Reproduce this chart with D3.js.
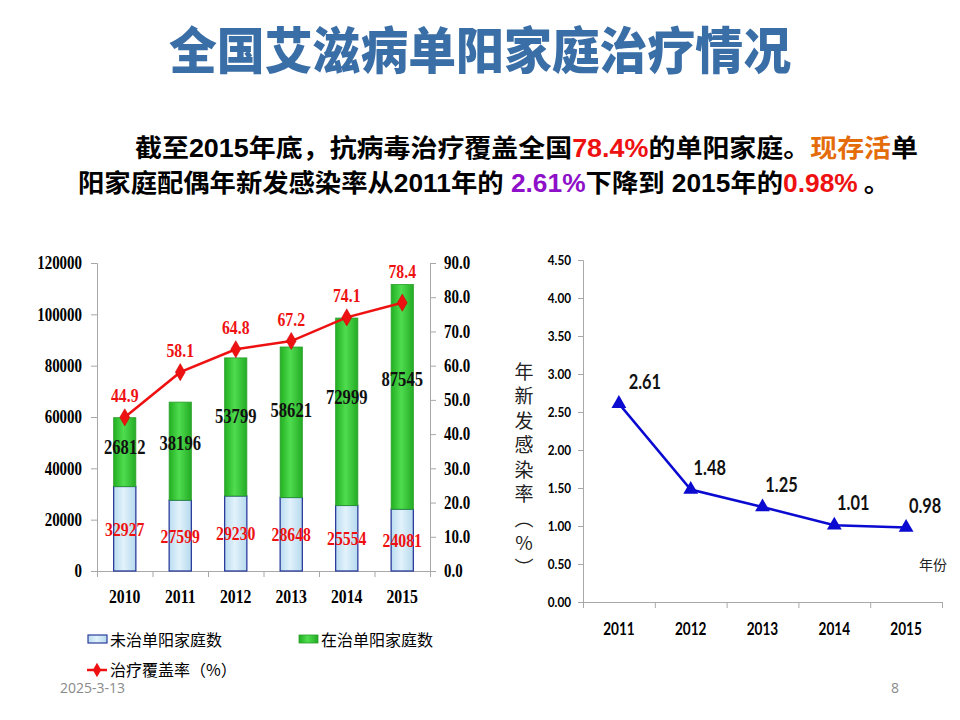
<!DOCTYPE html>
<html><head><meta charset="utf-8">
<script src="https://cdn.jsdelivr.net/npm/d3@7/dist/d3.min.js"></script>
<style>
html,body{margin:0;padding:0;background:#fff;}
svg{display:block;}
</style></head>
<body>
<svg id="c" width="960" height="720"></svg>
<script>
// ---------- data ----------
const years = ["2010","2011","2012","2013","2014","2015"];
const untreated = [32927,27599,29230,28648,25554,24081];
const treated = [26812,38196,53799,58621,72999,87545];
const coverage = [44.9,58.1,64.8,67.2,74.1,78.4];
const leftTicks = [0,20000,40000,60000,80000,100000,120000];
const rightTicks = [0,10,20,30,40,50,60,70,80,90];

const rateYears = ["2011","2012","2013","2014","2015"];
const rates = [2.61,1.48,1.25,1.01,0.98];
const rateTicks = [0,0.5,1,1.5,2,2.5,3,3.5,4,4.5];

const titleText = "全国艾滋病单阳家庭治疗情况";
const legendLabels = ["未治单阳家庭数","在治单阳家庭数","治疗覆盖率（%）"];

const svg = d3.select("#c");
const defs = svg.append("defs");

// horizontal squish helper (reference text is narrow)
function squish(sel,k){
  sel.each(function(){
    const t = d3.select(this);
    const x = +(t.attr("x")||0);
    t.attr("x", x/k).attr("transform", `scale(${k},1)`);
  });
}

// gradients
const gG = defs.append("linearGradient").attr("id","gGreen").attr("x1","0").attr("x2","1");
gG.append("stop").attr("offset","0").attr("stop-color","#22b022");
gG.append("stop").attr("offset","0.45").attr("stop-color","#4fdc4f");
gG.append("stop").attr("offset","1").attr("stop-color","#24ac24");
const gB = defs.append("linearGradient").attr("id","gBlue").attr("x1","0").attr("x2","1");
gB.append("stop").attr("offset","0").attr("stop-color","#b9dcf0");
gB.append("stop").attr("offset","0.45").attr("stop-color","#e2f2fb");
gB.append("stop").attr("offset","1").attr("stop-color","#b5d9ee");
const sh = defs.append("filter").attr("id","shadow").attr("x","-5%").attr("y","-50%").attr("width","110%").attr("height","300%");
sh.append("feDropShadow").attr("dx","1").attr("dy","2").attr("stdDeviation","1.2").attr("flood-color","#000").attr("flood-opacity","0.35");

// ---------- title ----------
svg.append("text").attr("x",480).attr("y",69).attr("text-anchor","middle")
  .attr("font-family","'Noto Sans CJK SC'").attr("font-weight",900).attr("font-size",50)
  .attr("fill","#3a6ea6").attr("textLength",622).attr("lengthAdjust","spacingAndGlyphs")
  .text(titleText);
svg.append("line").attr("x1",24).attr("x2",948).attr("y1",97).attr("y2",97)
  .attr("stroke","#c00000").attr("stroke-width",4).attr("filter","url(#shadow)");

// ---------- body text ----------
const cjk = "'Noto Sans CJK SC'", num = "'Liberation Sans', Arial";
function para(x,y,len,parts){
  const t = svg.append("text").attr("x",x).attr("y",y).attr("font-size",25).attr("font-weight",700)
    .attr("textLength",len).attr("lengthAdjust","spacingAndGlyphs");
  parts.forEach(p=>{
    t.append("tspan").attr("fill",p[1]||"#000").attr("font-family",p[2]?num:cjk).text(p[0]);
  });
}
para(135,157,783,[["截至"],["2015","#000",1],["年底，抗病毒治疗覆盖全国"],["78.4%","#ee1111",1],["的单阳家庭。"],["现存活","#e46c0a"],["单"]]);
para(78,192,812,[["阳家庭配偶年新发感染率从"],["2011","#000",1],["年的"],[" 2.61%","#8e10c8",1],["下降到"],[" 2015","#000",1],["年的"],["0.98%","#ee1111",1],[" 。"]]);

// ---------- left chart ----------
const serif = "'Liberation Serif', 'Times New Roman', serif";
const KL = 0.83;
const xL = d3.scaleBand().domain(years).range([97,430]).paddingInner(0.6).paddingOuter(0.3);
const yL = d3.scaleLinear().domain([0,120000]).range([571,263]);
const yR = d3.scaleLinear().domain([0,90]).range([571,263]);
const xLb = d3.scaleLinear().domain([0,years.length]).range([97,430]);

const axL = svg.append("g").attr("transform","translate(97,0)")
  .call(d3.axisLeft(yL).tickValues(leftTicks).tickSize(6).tickPadding(9).tickFormat(d3.format("d")));
const axR = svg.append("g").attr("transform","translate(430,0)")
  .call(d3.axisRight(yR).tickValues(rightTicks).tickSize(6).tickPadding(8).tickFormat(d3.format(".1f")));
const axB = svg.append("g").attr("transform","translate(0,571)")
  .call(d3.axisBottom(xLb).tickValues(d3.range(years.length+1)).tickSize(6).tickFormat(""));
[axL,axR,axB].forEach(a=>{
  a.selectAll("path,line").attr("stroke","#a8a8a8").attr("stroke-width",1);
  a.selectAll("text").attr("font-family",serif).attr("font-weight",700).attr("font-size",18).attr("fill","#000");
  squish(a.selectAll("text"),KL);
});
axB.select("path").attr("d","M97,0.5H430");

// x labels
squish(svg.append("g").selectAll("text").data(years).join("text")
  .attr("x",d=>xL(d)+xL.bandwidth()/2).attr("y",603).attr("text-anchor","middle")
  .attr("font-family",serif).attr("font-weight",700).attr("font-size",19).text(d=>d),KL);

// bars
const bars = svg.append("g");
bars.selectAll("rect.b").data(years).join("rect").attr("class","b")
  .attr("x",d=>xL(d)).attr("width",xL.bandwidth())
  .attr("y",(d,i)=>yL(untreated[i])).attr("height",(d,i)=>yL(0)-yL(untreated[i]))
  .attr("fill","url(#gBlue)").attr("stroke","#2b3c9c").attr("stroke-width",1.3);
bars.selectAll("rect.g").data(years).join("rect").attr("class","g")
  .attr("x",d=>xL(d)).attr("width",xL.bandwidth())
  .attr("y",(d,i)=>yL(untreated[i]+treated[i])).attr("height",(d,i)=>yL(untreated[i])-yL(untreated[i]+treated[i]))
  .attr("fill","url(#gGreen)").attr("stroke","#2a9e2a").attr("stroke-width",0.8);

// bar labels
squish(bars.selectAll("text.bl").data(years).join("text").attr("class","bl")
  .attr("x",d=>xL(d)+xL.bandwidth()/2).attr("y",(d,i)=>yL(untreated[i]/2)+7)
  .attr("text-anchor","middle").attr("font-family",serif).attr("font-weight",700).attr("font-size",19)
  .attr("fill","#ee1111").text((d,i)=>untreated[i]),KL);
squish(bars.selectAll("text.gl").data(years).join("text").attr("class","gl")
  .attr("x",d=>xL(d)+xL.bandwidth()/2).attr("y",(d,i)=>yL(untreated[i]+treated[i]*0.58)+7)
  .attr("text-anchor","middle").attr("font-family",serif).attr("font-weight",700).attr("font-size",20)
  .attr("fill","#111").text((d,i)=>treated[i]),KL);

// coverage line
const cx = d=>xL(d)+xL.bandwidth()/2;
svg.append("path").datum(years)
  .attr("d",d3.line().x(cx).y((d,i)=>yR(coverage[i])))
  .attr("fill","none").attr("stroke","#ee1111").attr("stroke-width",2.5);
svg.append("g").selectAll("path").data(years).join("path")
  .attr("d",d3.symbol(d3.symbolDiamond,85))
  .attr("transform",(d,i)=>`translate(${cx(d)},${yR(coverage[i])})`)
  .attr("fill","#ee1111").attr("stroke","#cc0000").attr("stroke-width",0.5);
squish(svg.append("g").selectAll("text").data(years).join("text")
  .attr("x",cx).attr("y",(d,i)=>Math.min(yR(coverage[i])-22, yL(untreated[i]+treated[i])-13)+7)
  .attr("text-anchor","middle").attr("font-family",serif).attr("font-weight",700).attr("font-size",19)
  .attr("fill","#ee1111").text((d,i)=>d3.format(".1f")(coverage[i])),KL);

// legend
const lg = svg.append("g").attr("font-family",cjk).attr("font-size",16).attr("fill","#000");
lg.append("rect").attr("x",88).attr("y",635).attr("width",19).attr("height",8)
  .attr("fill","url(#gBlue)").attr("stroke","#2b3c9c").attr("stroke-width",1.2);
lg.append("text").attr("x",110).attr("y",646).text(legendLabels[0]);
lg.append("rect").attr("x",299).attr("y",635).attr("width",19).attr("height",8)
  .attr("fill","url(#gGreen)").attr("stroke","#2a9e2a").attr("stroke-width",0.8);
lg.append("text").attr("x",321).attr("y",646).text(legendLabels[1]);
lg.append("line").attr("x1",87).attr("x2",107).attr("y1",670).attr("y2",670).attr("stroke","#ee1111").attr("stroke-width",2.5);
lg.append("path").attr("d",d3.symbol(d3.symbolDiamond,60)).attr("transform","translate(97,670)").attr("fill","#ee1111");
lg.append("text").attr("x",110).attr("y",676).text(legendLabels[2]);

// ---------- right chart ----------
const sans = "Lato, 'Open Sans', sans-serif";
const KR = 0.84;
const xR2 = d3.scaleBand().domain(rateYears).range([583,942]);
const yR2 = d3.scaleLinear().domain([0,4.5]).range([602,260]);
const xR2b = d3.scaleLinear().domain([0,rateYears.length]).range([583,942]);
const ay = svg.append("g").attr("transform","translate(583,0)")
  .call(d3.axisLeft(yR2).tickValues(rateTicks).tickSize(5).tickPadding(7).tickFormat(d3.format(".2f")));
const ax = svg.append("g").attr("transform","translate(0,602)")
  .call(d3.axisBottom(xR2b).tickValues(d3.range(rateYears.length+1)).tickSize(6).tickFormat(""));
[ay,ax].forEach(a=>{
  a.selectAll("path,line").attr("stroke","#a8a8a8").attr("stroke-width",1);
  a.selectAll("text").attr("font-family",sans).attr("font-weight",700).attr("font-size",14).attr("fill","#000");
  squish(a.selectAll("text"),KR);
});
ax.select("path").attr("d","M583,0.5H942");
squish(svg.append("g").selectAll("text").data(rateYears).join("text")
  .attr("x",d=>xR2(d)+xR2.bandwidth()/2).attr("y",635).attr("text-anchor","middle")
  .attr("font-family",sans).attr("font-weight",700).attr("font-size",17).text(d=>d),0.8);

const rx = d=>xR2(d)+xR2.bandwidth()/2;
svg.append("path").datum(rateYears)
  .attr("d",d3.line().x(rx).y((d,i)=>yR2(rates[i])))
  .attr("fill","none").attr("stroke","#0a0ad0").attr("stroke-width",2.5);
svg.append("g").selectAll("path").data(rateYears).join("path")
  .attr("d",d3.symbol(d3.symbolTriangle,95))
  .attr("transform",(d,i)=>`translate(${rx(d)},${yR2(rates[i])})`)
  .attr("fill","#0a0ad0");
squish(svg.append("g").selectAll("text").data(rateYears).join("text")
  .attr("x",(d,i)=>rx(d)+(i===0?26:19)).attr("y",(d,i)=>yR2(rates[i])-15)
  .attr("text-anchor","middle").attr("font-family",sans).attr("font-weight",700).attr("font-size",20)
  .attr("fill","#111").text((d,i)=>d3.format(".2f")(rates[i])),0.82);

// y title vertical
svg.append("text").attr("x",524).attr("y",362)
  .attr("font-family",cjk).attr("font-size",19).attr("fill","#222")
  .style("writing-mode","vertical-rl").style("text-orientation","upright")
  .attr("letter-spacing",5.5).text("年新发感染率（%）");
svg.append("text").attr("x",933).attr("y",570).attr("text-anchor","middle")
  .attr("font-family",cjk).attr("font-size",14).attr("fill","#222").text("年份");

// footer
svg.append("text").attr("x",60).attr("y",693).attr("font-family","'Open Sans', sans-serif")
  .attr("font-size",14).attr("fill","#8a8a8a").text("2025-3-13");
svg.append("text").attr("x",895).attr("y",693).attr("text-anchor","middle").attr("font-family","'Open Sans', sans-serif")
  .attr("font-size",14).attr("fill","#8a8a8a").text("8");
</script>
</body></html>
